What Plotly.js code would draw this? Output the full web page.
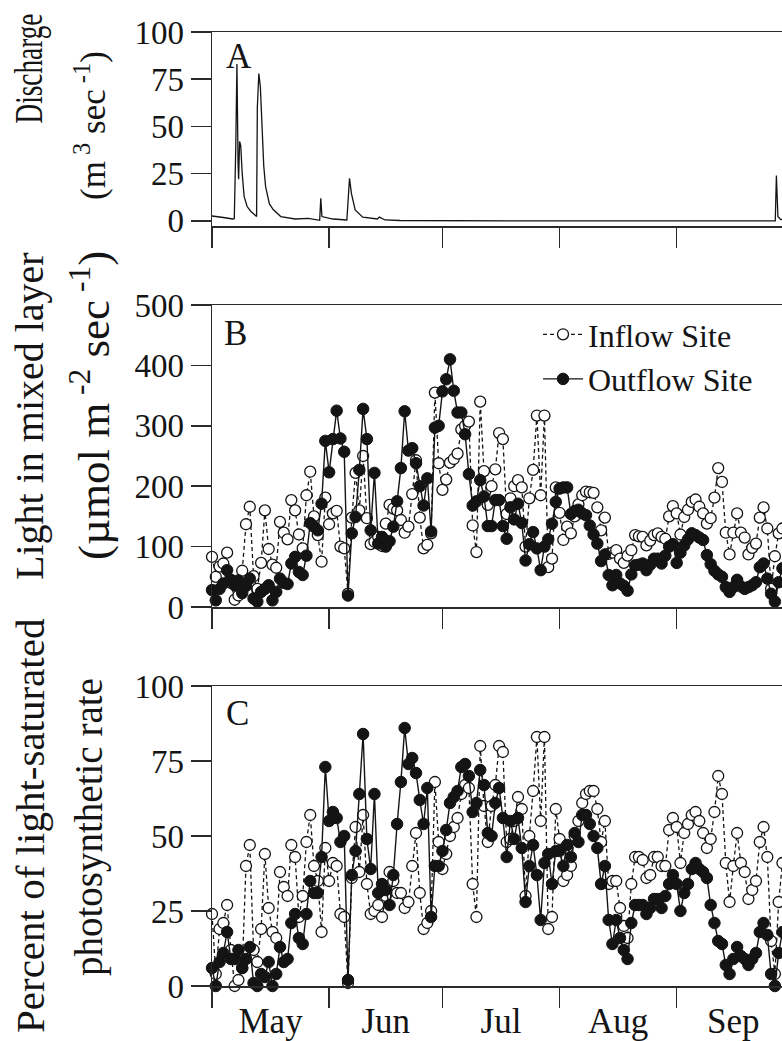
<!DOCTYPE html>
<html>
<head>
<meta charset="utf-8">
<script src="https://cdn.plot.ly/plotly-3.0.1.min.js"></script>
<style>
  html, body { margin: 0; padding: 0; overflow: hidden; background: #fff; }
  #chart { width: 800px; height: 1041px; }
</style>
</head>
<body>
<div id="chart"></div>
<script>
// ---------------- DATA ----------------
// Season start (day 0 = May 1); values below are one per day.
const seasonStart = '2001-05-01';

// Panel A: discharge (m3/sec), time in days since May 1
const dischargeDay = [0, 1.4, 3, 5.5, 5.9, 6.3, 6.6, 6.9, 7.05, 7.3, 7.6, 8.0, 8.5, 9.3, 10.3, 11.3, 11.8,
  12.0, 12.4, 12.8, 13.2, 13.7, 14.2, 15.2, 16.2, 18.2, 22, 25.5, 28.5, 28.8, 29.1, 32, 35.7, 36.4, 36.9,
  37.9, 39.9, 43.8, 44.3, 45.8, 49.8, 58, 80, 100, 120, 140, 149.1, 149.4, 149.8, 150.5, 153];
const dischargeVal = [2.6, 2.3, 1.8, 1.0, 1.2, 40, 83, 30, 22, 42, 40, 25, 13, 7.6, 5, 3.2, 2.3,
  60, 78, 71, 48, 29, 18, 9, 6, 2.3, 1.0, 1.3, 0.3, 12, 2.3, 1.0, 0.5, 22.5, 14.6,
  5.8, 2, 1, 2, 0.5, 0.2, 0.1, 0, 0, 0, 0, 0, 24, 2.3, 0.8, 0.5];

// Panel B: light in mixed layer (umol m-2 sec-1), daily from May 1
const inflowLight = [83,50,67,72,90,40,12,19,60,137,
  166,51,30,73,160,96,70,65,141,123,
  112,177,160,120,97,185,224,150,119,75,
  181,137,155,159,100,97,22,148,222,160,
  250,147,104,108,116,101,138,169,163,160,
  144,123,133,187,243,148,97,103,122,355,
  238,194,211,239,245,254,294,300,307,135,
  91,340,225,169,200,228,288,278,154,180,
  200,210,198,100,180,227,317,185,317,66,
  80,198,156,111,133,122,150,170,185,191,
  190,189,165,127,148,88,90,94,80,73,
  85,94,119,117,116,102,110,119,122,116,
  113,150,167,155,120,149,161,174,178,166,
  155,138,147,181,230,207,123,87,123,155,
  123,115,87,98,105,148,165,130,30,84,
  122,130];
const outflowLight = [28,11,30,39,61,45,36,44,23,35,
  47,14,9,25,30,36,11,25,47,40,
  38,72,83,58,53,85,139,133,127,171,
  275,223,278,325,279,257,19,122,149,227,
  328,278,127,222,105,116,100,109,133,175,
  230,324,259,263,238,200,168,213,125,297,
  300,357,377,410,358,322,322,286,220,168,
  175,210,183,134,134,177,177,134,113,165,
  145,171,139,77,104,124,97,61,100,112,
  138,174,196,198,198,154,159,161,155,152,
  135,120,105,76,87,53,36,53,39,35,
  27,54,69,70,72,61,70,80,80,72,
  85,100,104,73,90,102,112,122,119,115,
  111,86,71,60,54,50,33,25,33,45,
  34,30,33,36,41,66,72,47,22,9,
  41,64];

// Panel C: percent of light-saturated photosynthetic rate, daily from May 1
const inflowPct = [24,4,19,21,27,12,0,2,6,40,
  47,12,8,19,44,26,18,16,38,33,
  30,47,43,23,30,48,57,40,35,18,
  46,35,41,40,24,23,1,36,53,38,
  57,34,24,25,27,23,30,38,35,31,
  31,26,28,40,51,31,19,21,25,68,
  48,39,44,50,53,56,64,67,66,34,
  23,80,60,48,60,67,80,78,48,49,
  55,63,59,30,50,65,83,55,83,19,
  23,59,49,35,37,40,50,55,61,64,
  65,65,59,48,55,34,35,35,26,20,
  16,34,43,43,42,36,37,43,43,40,
  40,52,56,53,41,51,54,57,58,55,
  51,46,49,58,70,64,41,28,40,51,
  41,38,29,32,35,48,53,43,15,4,
  28,41];
const outflowPct = [6,0,8,11,18,9,9,12,6,9,
  13,1,0,4,3,8,0,4,13,8,
  9,21,24,16,14,24,35,31,31,43,
  73,55,58,56,48,50,2,37,45,64,
  84,49,39,64,31,34,32,27,37,54,
  68,86,74,76,71,62,54,66,23,40,
  40,45,52,61,63,65,73,74,70,58,
  61,72,67,51,50,61,66,56,43,55,
  49,56,46,28,40,47,37,22,41,44,
  34,45,45,40,47,43,51,48,57,57,
  54,50,46,34,40,22,14,22,16,12,
  9,21,27,27,27,24,26,29,29,26,
  30,34,37,34,25,31,34,39,41,39,
  38,36,27,21,15,14,7,4,9,13,
  10,9,7,9,11,18,21,17,4,0,
  11,18];

const seriesNames = ['Inflow Site', 'Outflow Site'];
const dischargeTicks = [0, 25, 50, 75, 100];
const lightTicks = [0, 100, 200, 300, 400, 500];
const pctTicks = [0, 25, 50, 75, 100];

// ---------------- HELPERS ----------------
const t0 = Date.parse(seasonStart + 'T00:00:00Z');
function dayToDate(d) {
  return new Date(t0 + d * 86400000).toISOString().slice(0, 19).replace('T', ' ');
}
const dailyDates = inflowLight.map((_, i) => dayToDate(i));
const dischargeDates = dischargeDay.map(dayToDate);

const W = 800, H = 1041, ML = 212, MR = 10;
const PW = W - ML - MR;
const px2x = px => (px - ML) / PW;
const px2y = py => 1 - py / H;

const FONT = '"Liberation Serif", "Times New Roman", serif';
const INK = '#141414';
const AX = '#2a2a2a';

const openMarker = { symbol: 'circle', size: 11, color: '#ffffff', line: { color: INK, width: 1.3 } };
const fillMarker = { symbol: 'circle', size: 11.5, color: INK, line: { color: INK, width: 1 } };
const dashLine = { color: INK, width: 1.3, dash: '4px,3px' };
const solidLine = { color: INK, width: 1.4 };

const traces = [
  { x: dischargeDates, y: dischargeVal, xaxis: 'x', yaxis: 'y', mode: 'lines',
    line: { color: INK, width: 1.3 }, showlegend: false, hoverinfo: 'skip' },
  { x: dailyDates, y: inflowLight, xaxis: 'x2', yaxis: 'y2', mode: 'lines+markers', name: seriesNames[0],
    line: dashLine, marker: openMarker, cliponaxis: false },
  { x: dailyDates, y: outflowLight, xaxis: 'x2', yaxis: 'y2', mode: 'lines+markers', name: seriesNames[1],
    line: solidLine, marker: fillMarker, cliponaxis: false },
  { x: dailyDates, y: inflowPct, xaxis: 'x3', yaxis: 'y3', mode: 'lines+markers', name: seriesNames[0],
    line: dashLine, marker: openMarker, cliponaxis: false, showlegend: false },
  { x: dailyDates, y: outflowPct, xaxis: 'x3', yaxis: 'y3', mode: 'lines+markers', name: seriesNames[1],
    line: solidLine, marker: fillMarker, cliponaxis: false, showlegend: false }
];

const xRange = [dayToDate(0), dayToDate(153)];
function xAxis(anchor, labels) {
  return {
    anchor: anchor, type: 'date', range: xRange, domain: [0, 1],
    tick0: seasonStart, dtick: 'M1', ticks: 'outside', ticklen: 20, tickwidth: 1.5, tickcolor: AX,
    showline: true, linecolor: AX, linewidth: 1.5, mirror: true,
    showgrid: false, zeroline: false,
    showticklabels: labels, tickformat: '%b', ticklabelmode: 'period',
    ticklabelstandoff: -17,
    tickfont: { family: FONT, size: 35, color: INK }
  };
}
function yAxis(anchor, domain, range, vals) {
  return {
    anchor: anchor, domain: domain, range: range, tickmode: 'array', tickvals: vals,
    ticks: 'outside', ticklen: 20, tickwidth: 1.5, tickcolor: AX,
    showline: true, linecolor: AX, linewidth: 1.5,
    showgrid: false, zeroline: false,
    tickfont: { family: FONT, size: 33, color: INK }
  };
}

function vtitle(text, px, py, size) {
  return { text: text, xref: 'paper', yref: 'paper', x: px2x(px), y: px2y(py),
    xanchor: 'center', yanchor: 'middle', textangle: -90, showarrow: false,
    font: { family: FONT, size: size, color: INK } };
}
function letter(text, px, py) {
  return { text: text, xref: 'paper', yref: 'paper', x: px2x(px), y: px2y(py),
    xanchor: 'left', yanchor: 'top', showarrow: false,
    font: { family: FONT, size: 35, color: INK } };
}

const layout = {
  width: W, height: H,
  margin: { l: ML, r: MR, t: 0, b: 0 },
  paper_bgcolor: '#ffffff', plot_bgcolor: '#ffffff',
  font: { family: FONT, color: INK },
  xaxis: xAxis('y', false),
  xaxis2: xAxis('y2', false),
  xaxis3: xAxis('y3', true),
  yaxis: yAxis('x', [px2y(226), px2y(32)], [-2.7, 100], dischargeTicks),
  yaxis2: yAxis('x2', [px2y(607), px2y(305)], [0, 500], lightTicks),
  yaxis3: yAxis('x3', [px2y(986), px2y(686)], [0, 100], pctTicks),
  showlegend: true,
  legend: { x: px2x(538), y: px2y(307), xanchor: 'left', yanchor: 'top',
    bgcolor: 'rgba(0,0,0,0)', font: { family: FONT, size: 32, color: INK },
    itemwidth: 40, tracegroupgap: 0 },
  annotations: [
    letter('A', 224, 35), letter('B', 222, 312), letter('C', 224, 692),
    vtitle('Discharge', 29, 69, 39),
    vtitle('(m<sup> 3</sup> sec<sup> -1</sup>)', 90, 126, 35),
    vtitle('Light in mixed layer', 29, 416, 40),
    vtitle('(µmol m<sup> -2</sup> sec<sup> -1</sup>)', 90, 406, 45),
    vtitle('Percent of light-saturated', 30, 826, 41),
    vtitle('photosynthetic rate', 89, 827, 39)
  ]
};

Plotly.newPlot('chart', traces, layout, { staticPlot: true, displayModeBar: false }).then(gd => {
  // The reference sets "Discharge" in a narrower face: condense it along its reading direction.
  const g = gd.querySelector('g.annotation[data-index="3"] g.annotation-text-g');
  const txt = g && g.querySelector('text.annotation-text');
  if (!g || !txt) return;
  const tr = g.getAttribute('transform') || '';
  const m = tr.match(/rotate\(\s*([-\d.e]+)[\s,]+([-\d.e]+)[\s,]+([-\d.e]+)\s*\)/);
  if (!m) return;
  const cx = +m[2], cy = +m[3];
  const len = txt.getBBox().width;
  if (!(len > 0)) return;
  const s = 110 / len;
  g.setAttribute('transform', tr + ' translate(' + cx + ',' + cy + ') scale(' + s + ',1) translate(' + (-cx) + ',' + (-cy) + ')');
});
</script>
</body>
</html>
